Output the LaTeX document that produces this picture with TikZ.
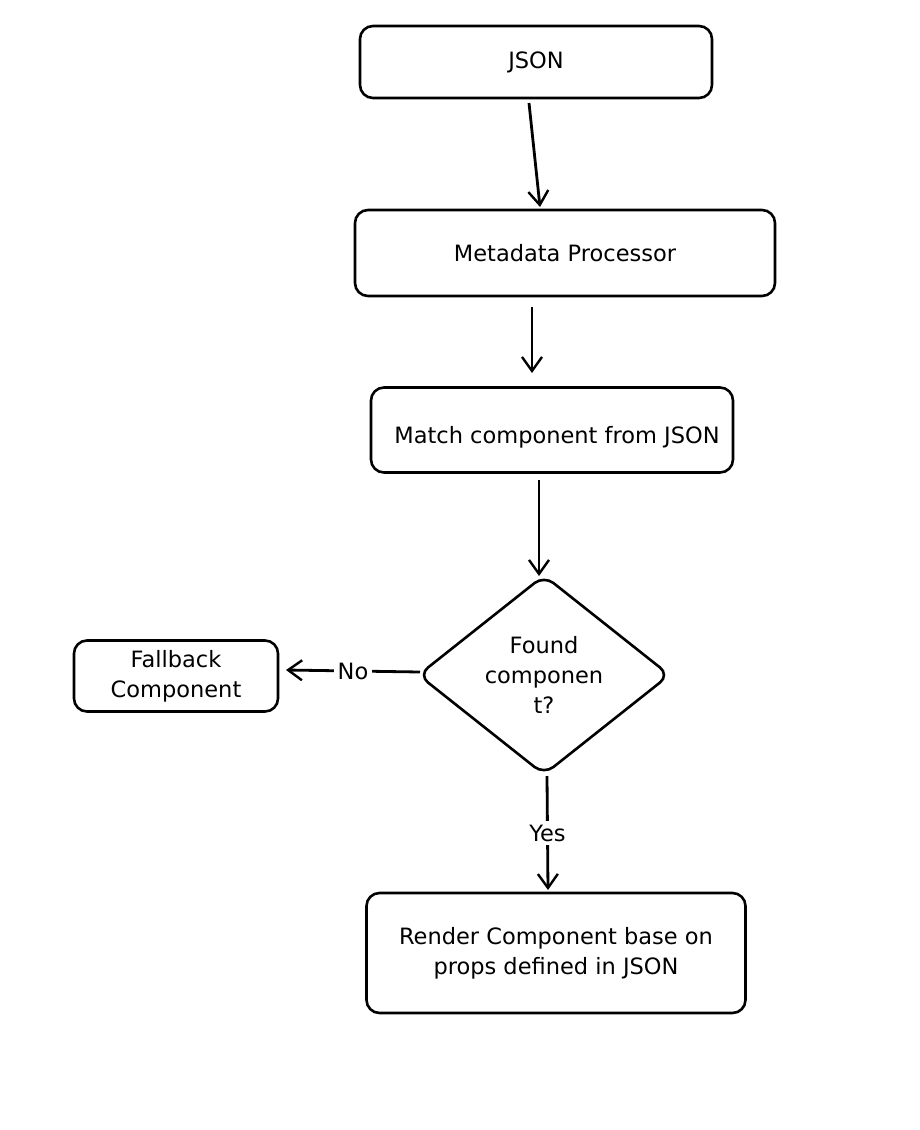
\documentclass[tikz,border=0pt]{standalone}
\usepackage{fontspec}
\setmainfont{DejaVu Sans}
\usetikzlibrary{shapes.geometric,arrows.meta}
\begin{document}
\begin{tikzpicture}[x=1pt,y=-1pt,
  txt/.style={font=\fontsize{22.5}{30}\selectfont},
  box/.style={draw, line width=2.6pt, rounded corners=13pt, inner sep=0pt, align=center, txt},
  dec/.style={draw, diamond, line width=2.6pt, rounded corners=12pt, inner sep=0pt, aspect=1.26, minimum width=252pt, minimum height=200pt, align=center, txt},
  conn/.style={line width=2.8pt, -{Straight Barb[length=14pt,width=20pt,line width=2.4pt]}},
  lbl/.style={fill=white, inner sep=4pt, txt}
]
\useasboundingbox[fill=white] (0,0) rectangle (920,1130);
\node[box, minimum width=352pt, minimum height=72pt] (json) at (536,62) {JSON};
\node[box, minimum width=420pt, minimum height=86pt] (meta) at (565,253) {Metadata Processor};
\node[box, minimum width=362pt, minimum height=85pt] (match) at (552,430) {};
\node[txt] (matcht) at (557,437) {Match component from JSON};
\node[dec] (found) at (544,675) {Found\\componen\\t?};
\node[box, minimum width=204pt, minimum height=71pt] (fall) at (176,676) {Fallback\\Component};
\node[box, minimum width=379pt, minimum height=120pt] (render) at (556,953) {Render Component base on\\props defined in JSON};

\coordinate (a1) at (529,103);
\coordinate (a2) at (540,207);
\draw[conn] (a1) -- (a2);
\coordinate (b1) at (532,307);
\coordinate (b2) at (532,373);
\draw[conn] (b1) -- (b2);
\coordinate (c1) at (539,480);
\coordinate (c2) at (539,576);
\draw[conn] (c1) -- (c2);
\coordinate (d1) at (420,672);
\coordinate (d2) at (286,670);
\draw[conn] (d1) -- node[lbl] (no) {No} (d2);
\coordinate (e1) at (547,776);
\coordinate (e2) at (548,890);
\draw[conn] (e1) -- node[lbl, pos=0.5] (yes) {Yes} (e2);
\end{tikzpicture}
\end{document}
